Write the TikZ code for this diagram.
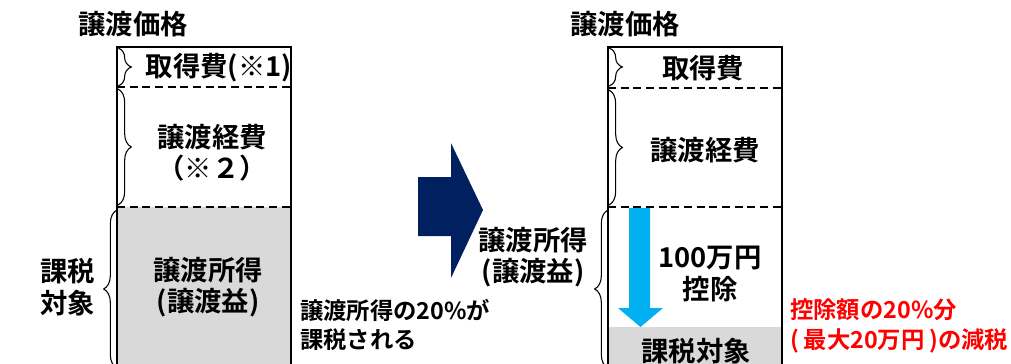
\documentclass[tikz,border=0pt]{standalone}
\usepackage{fontspec}
\setmainfont{Noto Sans CJK JP}[BoldFont={* Bold}]
\usepackage{xcolor}
\usetikzlibrary{decorations.pathreplacing}

\definecolor{navyarrow}{RGB}{0,32,96}
\definecolor{skyarrow}{RGB}{0,176,240}
\definecolor{taxgray}{RGB}{217,217,217}
\definecolor{notered}{RGB}{255,0,0}

\tikzset{
  lbl/.style={inner sep=0pt, align=center, font=\fontsize{20.5}{23.5}\selectfont\bfseries},
  note/.style={inner sep=0pt, align=left, anchor=west, font=\fontsize{17.5}{22}\selectfont\bfseries},
  brc/.style={decorate, decoration={brace, amplitude=10pt}, line width=0.8pt},
  sep/.style={dash pattern=on 6pt off 3.5pt, line width=1.1pt},
  frame/.style={line width=1.3pt},
}

\begin{document}
\begin{tikzpicture}[x=0.75pt,y=0.75pt,yscale=-1,xscale=1]
\useasboundingbox (0,0) rectangle (1011,364);
\clip (0,0) rectangle (1011,364);

% before the deduction
\fill[taxgray] (117,207) rectangle (291,372);
\draw[frame] (117,372) -- (117,47) -- (291,47) -- (291,372);
\draw[sep] (117,87) -- (291,87);
\draw[sep] (117,207) -- (291,207);
\draw[brc] (118,48) -- (118,86);
\draw[brc] (118,89) -- (118,205);
\draw[brc] (117,368) -- (117,210);

\node[lbl] (priceL) at (133,24) {譲渡価格};
\node[lbl] (acqL) at (219,68) {取得費(※1)};
\node[lbl] (expL) at (212,153) {譲渡経費\\（※２）};
\node[lbl] (gainL) at (208,287) {譲渡所得\\(譲渡益)};
\node[lbl] (taxL) at (68,287) {課税\\対象};
\node[note] (noteL) at (300,325) {譲渡所得の20\%が\\課税される};

% arrow between
\fill[navyarrow] (418,177) -- (451,177) -- (451,143) -- (483,210) -- (451,278) -- (451,236) -- (418,236) -- cycle;

% after the deduction
\fill[taxgray] (608,327) rectangle (782,372);
\draw[frame] (608,372) -- (608,47) -- (782,47) -- (782,372);
\draw[sep] (608,88) -- (782,88);
\draw[sep] (608,207) -- (782,207);
\draw[brc] (609,48) -- (609,86);
\draw[brc] (609,90) -- (609,205);
\draw[brc] (608,368) -- (608,210);
\fill[skyarrow] (629,208) -- (650,208) -- (650,308) -- (663,308) -- (640.5,327) -- (618,308) -- (629,308) -- cycle;

\node[lbl] (priceR) at (625,24) {譲渡価格};
\node[lbl] (acqR) at (703,68) {取得費};
\node[lbl] (expR) at (705,150) {譲渡経費};
\node[lbl] (gainR) at (533,257) {譲渡所得\\(譲渡益)};
\node[lbl] (dedR) at (710,274) {100万円\\控除};
\node[lbl] (taxR) at (696,351) {課税対象};
\node[note, text=notered] (noteR) at (790,326) {控除額の20\%分\\(\hspace{0.2em}最大20万円\hspace{0.2em})の減税};

\end{tikzpicture}
\end{document}
